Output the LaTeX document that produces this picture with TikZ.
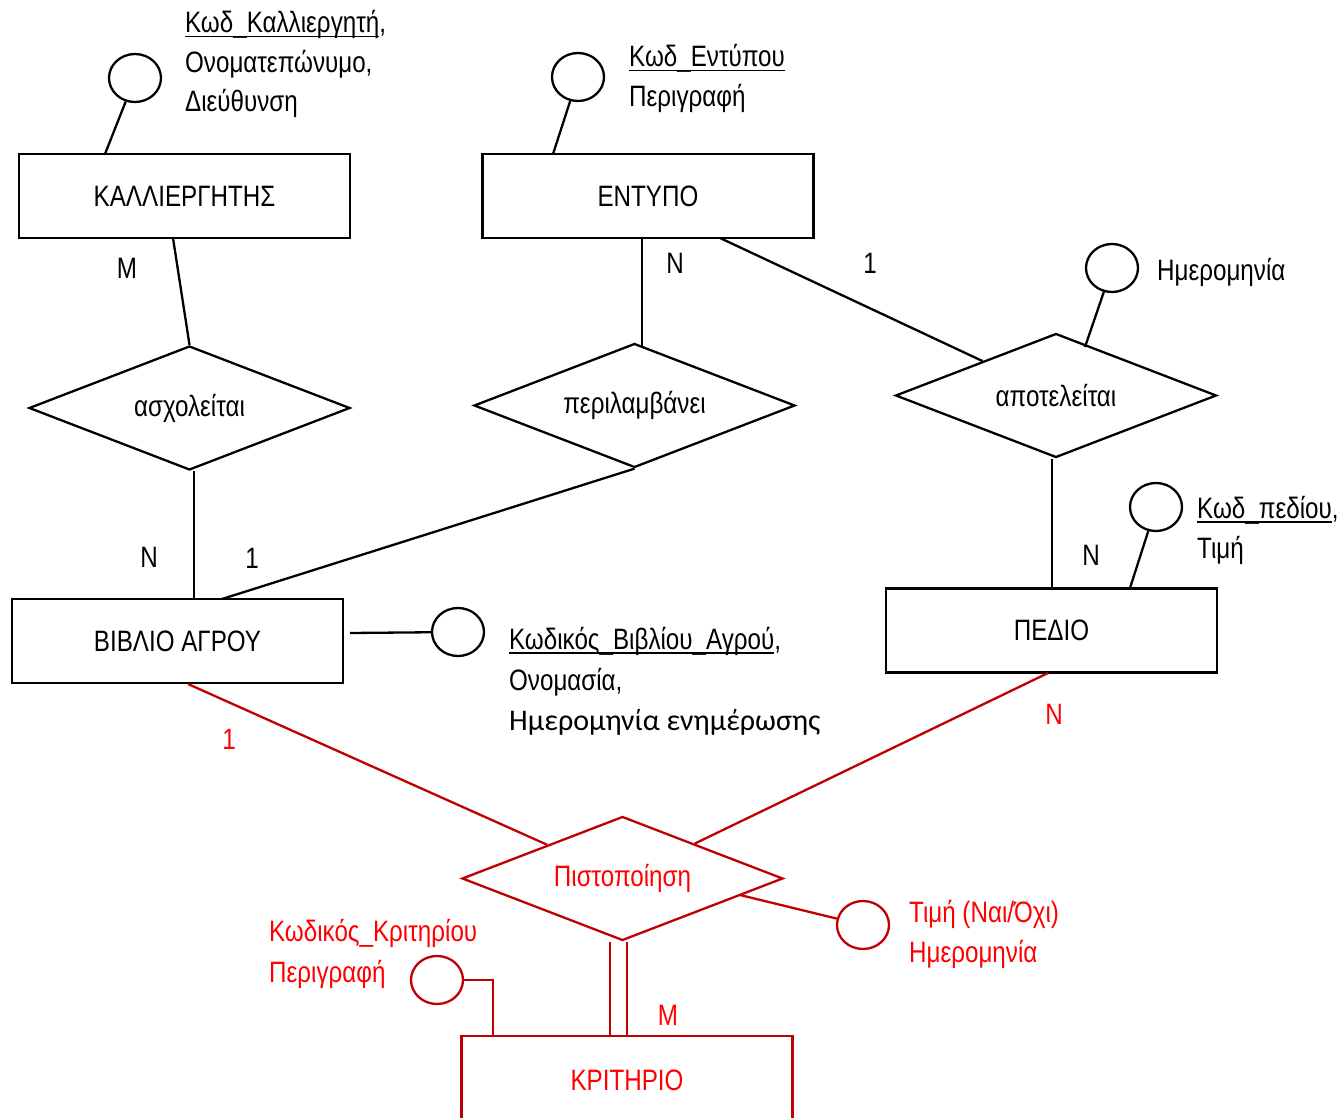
\documentclass[tikz,border=0pt]{standalone}
\usepackage{fontspec}
\setmainfont{Liberation Sans}[FakeStretch=0.82]
\newfontfamily\calfont{Carlito}
\usetikzlibrary{shapes.geometric}

\definecolor{linered}{RGB}{192,0,0}
\definecolor{textred}{RGB}{255,0,0}

% underline for key attributes
\newcommand\keyattr[1]{\setbox0\hbox{#1}\rlap{\rule[-4.5pt]{\wd0}{1.6pt}}\box0}

\begin{document}
\begin{tikzpicture}[x=1pt, y=-1pt,
  font=\fontsize{29.5}{35}\selectfont,
  line width=2.3pt,
  entity/.style={draw, rectangle, minimum width=331pt, minimum height=84pt, inner sep=0pt, line width=2.6pt},
  rel/.style={draw, diamond, aspect=2.6, minimum width=321pt, minimum height=124pt, inner sep=0pt},
  attr/.style={draw, ellipse, minimum width=52pt, minimum height=48pt, inner sep=0pt},
  lbl/.style={anchor=base west, inner sep=0pt},
  card/.style={anchor=base, inner sep=0pt},
  redline/.style={draw=linered, text=textred}]

\useasboundingbox (0,0) rectangle (1342,1118);

% entities
\node[entity] (kal) at (184.5,196) {ΚΑΛΛΙΕΡΓΗΤΗΣ};
\node[entity] (ent) at (648,196) {ΕΝΤΥΠΟ};
\node[entity] (biv) at (177.5,641) {ΒΙΒΛΙΟ ΑΓΡΟΥ};
\node[entity] (ped) at (1051.5,630.5) {ΠΕΔΙΟ};
\node[entity, redline, minimum height=88pt] (kri) at (627,1080) {ΚΡΙΤΗΡΙΟ};

% relationships
\node[rel] (asx) at (189.5,408) {ασχολείται};
\node[rel] (per) at (634.5,405.5) {περιλαμβάνει};
\node[rel] (apo) at (1056,395.5) {αποτελείται};
\node[rel, redline] (pis) at (622.5,878.5) {Πιστοποίηση};

% attribute ovals
\node[attr] (aK) at (135,78) {};
\node[attr] (aE) at (578,77) {};
\node[attr] (aA) at (1112,268) {};
\node[attr] (aP) at (1156,507) {};
\node[attr] (aB) at (458,632) {};
\node[attr, redline] (aPi) at (863,925) {};
\node[attr, redline] (aKr) at (437,980) {};

% attribute texts
\node[lbl] (tK1) at (184,33) {\keyattr{Κωδ\_Καλλιεργητή},};
\node[lbl] (tK2) at (184,73) {Ονοματεπώνυμο,};
\node[lbl] (tK3) at (184,112) {Διεύθυνση};
\node[lbl] (tE1) at (628,67) {\keyattr{Κωδ\_Εντύπου}};
\node[lbl] (tE2) at (628,107) {Περιγραφή};
\node[lbl] (tA1) at (1156,280) {Ημερομηνία};
\node[lbl] (tP1) at (1196,518) {\keyattr{Κωδ\_πεδίου},};
\node[lbl] (tP2) at (1196,558) {Τιμή};
\node[lbl] (tB1) at (508,649) {\keyattr{Κωδικός\_Βιβλίου\_Αγρού},};
\node[lbl] (tB2) at (508,690) {Ονομασία,};
\node[lbl, font=\calfont\fontsize{30}{36}\selectfont] (tB3) at (508,730) {Ημερομηνία ενημέρωσης};
\node[lbl, text=textred] (tKr1) at (268,941) {Κωδικός\_Κριτηρίου};
\node[lbl, text=textred] (tKr2) at (268,982) {Περιγραφή};
\node[lbl, text=textred] (tPi1) at (908,922) {Τιμή (Ναι/Όχι)};
\node[lbl, text=textred] (tPi2) at (908,962) {Ημερομηνία};

% connection points on entity borders
\coordinate (kK) at (105,154);
\coordinate (kE) at (553,154);
\coordinate (kA) at (1085,347);
\coordinate (kP) at (1130,588);
\coordinate (kB) at (350,633);
\coordinate (kPi) at (740,895);
\coordinate (kKr) at (493,1036);
\coordinate (k1) at (173,238);
\coordinate (b1) at (194,599);
\coordinate (e1) at (642,238);
\coordinate (p2) at (642,347);
\coordinate (b2) at (222,599);
\coordinate (e2) at (720,238);
\coordinate (pd1) at (1052,588);
\coordinate (b3) at (188,684);
\coordinate (pd2) at (1048,673);
\coordinate (kr1) at (610,1036);
\coordinate (kr2) at (627,1036);

% attribute connectors
\draw (aK) -- (kK);
\draw (aE) -- (kE);
\draw (aA) -- (kA);
\draw (aP) -- (kP);
\draw (kB) -- (aB);
\draw[linered] (kPi) -- (aPi);
\draw[linered] (aKr.east) -| (kKr);

% relationship connectors
\draw (k1) -- (asx.north);
\draw (b1 |- asx.south) -- (b1);
\draw (e1) -- (p2);
\draw (per.south) -- (b2);
\draw (e2) -- (apo);
\draw (pd1 |- apo.south) -- (pd1);
\draw[linered] (b3) -- (pis);
\draw[linered] (pd2) -- (pis);
\draw[linered] (kr1 |- pis.south) -- (kr1);
\draw[linered] (kr2 |- pis.south) -- (kr2);

% cardinalities
\node[card] (cM1) at (127,279) {M};
\node[card] (cN1) at (149,567) {N};
\node[card] (c11) at (252,568) {1};
\node[card] (cN2) at (675,274) {N};
\node[card] (c12) at (870,274) {1};
\node[card] (cN3) at (1091,565) {N};
\node[card, text=textred] (c13) at (229,749) {1};
\node[card, text=textred] (cN4) at (1054,724) {N};
\node[card, text=textred] (cM2) at (668,1025) {M};

\end{tikzpicture}
\end{document}
